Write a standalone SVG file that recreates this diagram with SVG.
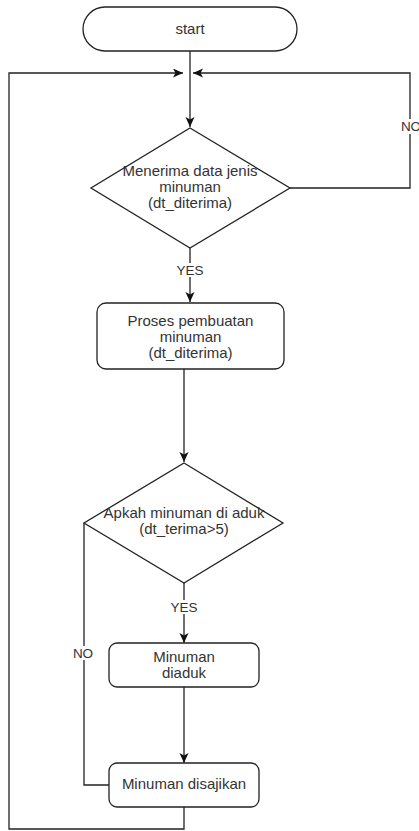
<svg xmlns="http://www.w3.org/2000/svg" width="419" height="831" viewBox="0 0 419 831">
<style>
.shape{fill:#fff;stroke:#222;stroke-width:1.3}
.edge{fill:none;stroke:#222;stroke-width:1.3}
text{font-family:"Liberation Sans",Arial,sans-serif;font-size:15px;fill:#333;text-anchor:middle}
.lbl{font-size:13.5px}
.bg{fill:#fff;stroke:none}
</style>
<defs>
<marker id="arr" markerUnits="userSpaceOnUse" markerWidth="12" markerHeight="10" refX="10" refY="4.5" orient="auto">
<path d="M0,0 L10,4.5 L0,9 L2.5,4.5 z" fill="#111"/>
</marker>
</defs>
<rect width="419" height="831" fill="#fff"/>
<g id="connectors">
<path class="edge" d="M190,51 V127" marker-end="url(#arr)"/>
<path class="edge" d="M290,188 H410 V73 H193" marker-end="url(#arr)"/>
<path class="edge" d="M184,807 V829 H9 V73 H183" marker-end="url(#arr)"/>
<path class="edge" d="M190,248 V302" marker-end="url(#arr)"/>
<path class="edge" d="M184,369 V462" marker-end="url(#arr)"/>
<path class="edge" d="M184,583 V643" marker-end="url(#arr)"/>
<path class="edge" d="M184,687 V763" marker-end="url(#arr)"/>
<path class="edge" d="M84,523 V785 H109"/>
<rect class="bg" x="399" y="119" width="20" height="15"/>
<text class="lbl" x="411" y="131">NO</text>
<rect class="bg" x="176" y="263" width="28" height="14"/>
<text class="lbl" x="190" y="275">YES</text>
<rect class="bg" x="170" y="600" width="28" height="14"/>
<text class="lbl" x="184" y="612">YES</text>
<rect class="bg" x="72" y="646" width="24" height="14"/>
<text class="lbl" x="83" y="658">NO</text>
</g>
<g id="start">
<rect class="shape" x="83" y="7" width="214" height="44" rx="22" ry="22"/>
<text x="190" y="34">start</text>
</g>
<g id="decision1">
<polygon class="shape" points="190,128 290,188 190,248 91,188"/>
<text x="190" y="176">Menerima data jenis</text>
<text x="190" y="192">minuman</text>
<text x="190" y="208">(dt_diterima)</text>
</g>
<g id="process1">
<rect class="shape" x="97" y="303" width="187" height="66" rx="9" ry="9"/>
<text x="190.5" y="326">Proses pembuatan</text>
<text x="190.5" y="342">minuman</text>
<text x="190.5" y="358">(dt_diterima)</text>
</g>
<g id="decision2">
<polygon class="shape" points="184,463 283,523 184,583 84,523"/>
<text x="184" y="518">Apkah minuman di aduk</text>
<text x="184" y="534">(dt_terima&gt;5)</text>
</g>
<g id="process2">
<rect class="shape" x="109" y="643" width="150" height="44" rx="8" ry="8"/>
<text x="184" y="662">Minuman</text>
<text x="184" y="678">diaduk</text>
</g>
<g id="process3">
<rect class="shape" x="109" y="763" width="150" height="44" rx="8" ry="8"/>
<text x="184" y="789">Minuman disajikan</text>
</g>
</svg>
